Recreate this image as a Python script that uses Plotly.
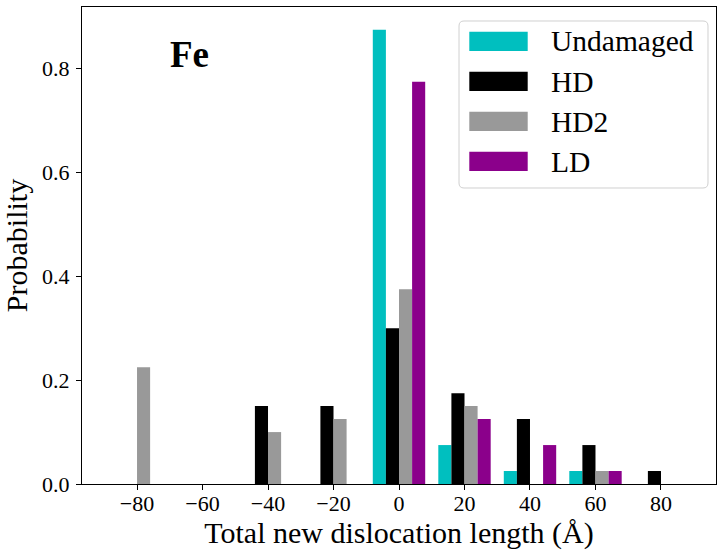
import plotly.graph_objects as go
import re

# ---- data ----
lengths = [-80, -60, -40, -20, 0, 20, 40, 60, 80]
undamaged = [0, 0, 0, 0, 0.875, 0.075, 0.025, 0.025, 0]
hd = [0, 0, 0.15, 0.15, 0.30, 0.175, 0.125, 0.075, 0.025]
hd2 = [0.225, 0, 0.10, 0.125, 0.375, 0.15, 0, 0.025, 0]
ld = [0, 0, 0, 0, 0.775, 0.125, 0.075, 0.025, 0]
series_names = ["Undamaged", "HD", "HD2", "LD"]
series_values = [undamaged, hd, hd2, ld]
series_colors = ["#00BFBF", "#000000", "#999999", "#8B008B"]
x_ticks = [-80, -60, -40, -20, 0, 20, 40, 60, 80]
y_ticks = [0.0, 0.2, 0.4, 0.6, 0.8]

FONT = "Liberation Serif"
W, H = 718, 550
ML, MR, MT, MB = 82, 2, 7, 66
PW, PH = W - ML - MR, H - MT - MB


def px_x(p):
    return (p - ML) / PW


def px_y(p):
    return (H - MB - p) / PH


fig = go.Figure()
for name, vals, col in zip(series_names, series_values, series_colors):
    fig.add_trace(go.Bar(x=lengths, y=vals, name=name,
                         marker=dict(color=col, line=dict(width=0)),
                         showlegend=False))

ymax = max(max(v) for v in series_values) * 1.05

fig.update_layout(
    width=W, height=H,
    margin=dict(l=ML, r=MR, t=MT, b=MB, autoexpand=False),
    paper_bgcolor="white", plot_bgcolor="white",
    barmode="group", bargap=0.2, bargroupgap=0,
    font=dict(family=FONT, color="black"),
)
fig.update_xaxes(
    range=[-96.8, 96.8], tickvals=x_ticks, ticks="outside", ticklen=5,
    tickwidth=1, tickcolor="black", showline=True, linecolor="black",
    linewidth=1, mirror=True, showgrid=False, zeroline=False,
    tickfont=dict(family=FONT, size=22), ticklabelstandoff=-5,
    title=dict(text="Total new dislocation length (Å)",
               font=dict(family=FONT, size=30), standoff=10),
)
fig.update_yaxes(
    range=[0, ymax], tickvals=y_ticks, tickformat=".1f", ticks="outside",
    ticklen=5, tickwidth=1, tickcolor="black", showline=True,
    linecolor="black", linewidth=1, mirror=True, showgrid=False,
    zeroline=False, tickfont=dict(family=FONT, size=22), ticklabelstandoff=2,
    title=dict(text="Probability", font=dict(family=FONT, size=30),
               standoff=6),
)

# "Fe" label
fig.add_annotation(text="<b>Fe</b>", xref="paper", yref="paper",
                   x=px_x(189.5), y=px_y(54), xanchor="center",
                   yanchor="middle", showarrow=False,
                   font=dict(family=FONT, size=37, color="black"))

# manual legend (wide swatches like the original)
lx0, ly0, lx1, ly1, r = 459, 21, 708, 188, 5
path = (f"M {lx0+r},{ly0} L {lx1-r},{ly0} Q {lx1},{ly0} {lx1},{ly0+r} "
        f"L {lx1},{ly1-r} Q {lx1},{ly1} {lx1-r},{ly1} L {lx0+r},{ly1} "
        f"Q {lx0},{ly1} {lx0},{ly1-r} L {lx0},{ly0+r} Q {lx0},{ly0} {lx0+r},{ly0} Z")


def conv(m):
    a, b = float(m.group(1)), float(m.group(2))
    return f"{px_x(a):.5f},{px_y(b):.5f}"


path_paper = re.sub(r"([\d.]+),([\d.]+)", conv, path)
fig.add_shape(type="path", path=path_paper, xref="paper", yref="paper",
              line=dict(color="#d0d0d0", width=1),
              fillcolor="rgba(255,255,255,0.8)", layer="above")
row_top = [31.7, 71.7, 111.7, 151.7]
for name, col, top in zip(series_names, series_colors, row_top):
    fig.add_shape(type="rect", xref="paper", yref="paper",
                  x0=px_x(469.3), x1=px_x(527.7), y0=px_y(top), y1=px_y(top + 19.3),
                  fillcolor=col, line=dict(width=0), layer="above")
    fig.add_annotation(text=name, xref="paper", yref="paper",
                       x=px_x(549), y=px_y(top + 9.8), xanchor="left",
                       yanchor="middle", showarrow=False,
                       font=dict(family=FONT, size=29.5, color="black"))

fig.write_html("out.html")
